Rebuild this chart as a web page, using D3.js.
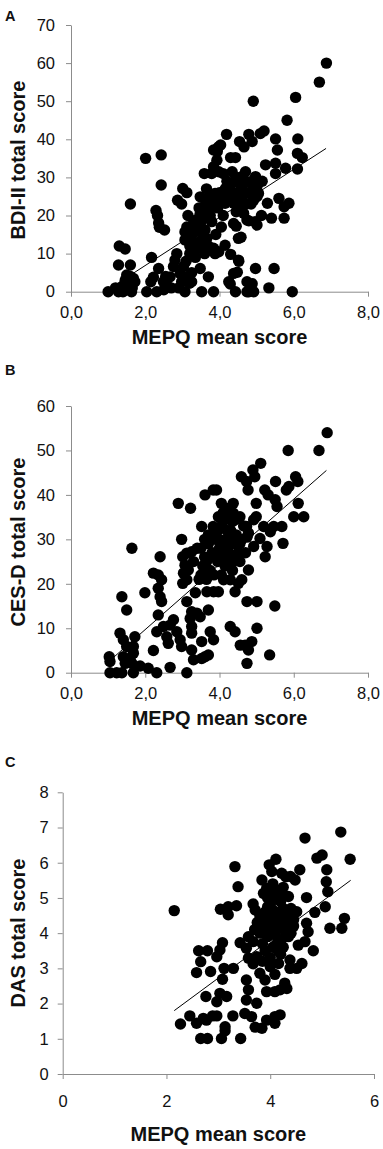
<!DOCTYPE html>
<html>
<head>
<meta charset="utf-8">
<script src="https://cdn.jsdelivr.net/npm/d3@7"></script>
<style>
  body { margin: 0; background: #fff; }
  svg { display: block; font-family: "Liberation Sans", Arial, sans-serif; }
</style>
</head>
<body>
<div id="chart"></div>
<script>
// Panel A: MEPQ mean score vs BDI-II total score
const pointsA = [
  [6.88,60],[6.69,55],[6.05,51],[4.91,50],[5.82,45],
  [4.19,41.3],[4.79,41.3],[5.2,42.2],[5.1,41.5],[5.51,40.1],[6.11,40.1],[4.54,39.4],[4.88,39.4],[4.66,38],[4.03,38.5],[3.94,36.8],[5.56,37.2],[6.1,36.3],[6.23,35.2],[3.84,37.2],[3.97,38],
  [4.3,35.2],[4.43,35.2],[3.93,34.5],[5.24,33.3],[5.51,33.7],[5.78,32.4],[6.1,32.2],[5.51,31],[3.98,31.5],[4.34,31.5],[4.7,31.5],[3.59,31],[3.79,31],[3.84,32.8],[4.97,30.2],[5.15,29],[4.6,30.2],[4.74,28.9],[4.92,29.3],
  [4.16,27.1],[4.61,27.1],[4.88,26.7],[5.01,27.6],[4.56,28],[4.24,27.1],[5.01,25],[5.05,25.8],[4.42,25.8],[4.78,25.8],[3.88,25.8],[4.92,24],[5.29,23.2],[5.6,24.5],[5.87,23.2],[5.74,22.3],[5.74,19.3],[5.13,20],[5.4,19.3],[4.79,18.6],[5.01,17.5],[4.45,17.2],[4.58,14.3],[4.15,23.2],[4.38,23.2],[4.56,22.3],[4.06,24],[3.84,22.3],[3.7,20.6],[3.79,18.4],[4.65,20.6],[4.74,18.8],[4.96,18.4],[4.38,17.9],[4.51,14],
  [3.48,24.9],[3.48,20.6],[3.57,22.3],[3.52,15.3],[3.61,16.2],[3.66,14],[2.87,24],[3.01,27.1],[3.12,26],[2.98,23],[3.07,15.7],[3.12,17],[3.07,13.6],[3.25,14.9],[3.25,13.6],[3.3,10],[3.39,11.4],[3.61,11.4],[3.84,11.4],[3.88,10],[4.15,12.2],[3.98,10.5],[4.3,9.8],[4.52,8],[4.51,8.3],[4.97,6.1],[5.47,6.1],[4.48,5.1],[4.38,4.8],[4.25,2.6],[4.74,2.6],[4.88,2.1],[4.29,2],[5.33,1],[5.96,0],[4.43,0],[4.79,0],[4.92,0],[4.74,0],
  [1.0,0],[1.28,0],[1.3,12],[1.46,11.2],[1.28,7],[1.6,7],[1.6,23],[1.5,4.4],[1.46,3],[1.4,0],[1.63,0],[1.72,2.6],[1.68,3.5],[1.55,1.7],[2.01,35],[2.43,35.9],[2.43,28],[2.29,21.3],[2.33,20],[2.36,18],[2.38,16.9],[2.52,16.2],[2.17,9],[2.36,6.1],[2.04,0],[2.31,0],[2.15,2.6],[2.22,3.8],[2.49,2.6],[2.67,3.9],[2.76,6.6],[2.8,8.3],[2.85,10],[2.62,1.3],[2.98,2.6],[3.07,0],[2.94,4.8],[3.03,6.6],[3.19,2.2],[3.25,2.6],[3.48,6.1],[3.7,3.9],[3.52,0],[3.84,0],
  [3.15,20],[3.3,18],[3.4,17],[3.2,12],[3.35,9],[3.1,8],[3.55,19],[3.75,25],[3.95,22],[4.1,20],[4.05,17],[3.9,15],[3.7,12],[3.6,10],[3.25,5],[3.15,4],[2.9,1],[2.7,1],[1.4,1.5],[1.2,1],[1.65,1],[3.45,22],[3.65,27],[4.0,26],[4.2,29],[4.45,21],[4.7,23],[4.55,25],[4.1,31],[4.5,29],
  [3.4,19],[3.5,17],[3.65,23],[3.75,20],[3.85,24],[4.0,23],[4.2,25],[4.3,24],[4.6,24],[4.85,23],[4.3,28],[4.45,30],[4.65,26],[3.3,16],[3.45,13],[3.55,12],[3.2,10],[1.5,2.5],[1.6,4],[2.5,0.5],[2.55,4]
];
const trendA = [[1.1, 1.2], [6.87, 37.6]];

// Panel B: MEPQ mean score vs CES-D total score
const pointsB = [
  [6.9,54],[6.68,50],[5.85,50],[5.11,47.1],[4.9,45.6],[4.95,44.1],[4.59,44.1],[6.05,44.1],[6.11,43],[5.51,43],[5.8,41.1],[5.87,41.9],[5.22,41.1],[5.31,40],[4.77,41.1],[4.73,43],[3.83,41.1],[3.92,41.1],[3.61,40],[2.89,38.1],[3.22,37],[4.05,38.1],[4.37,38.1],[4.99,38.1],[4.99,35.1],[5.55,37.4],[5.5,38.9],[6.12,38.1],[6.0,35.1],[6.27,35.1],[5.68,32.9],[5.46,32.9],[5.37,31.7],[5.19,32.9],[4.92,34.4],[4.78,31.4],[5.09,30.2],[5.28,28.4],[5.23,26.1],[5.71,29.1],[4.74,30.5],[4.92,28.4],
  [2.98,30],[3.52,32.9],[3.83,32.9],[3.97,35.1],[4.15,34.4],[4.37,35.9],[4.42,34.4],[4.55,35.1],[4.73,32.9],[1.64,28],[3.01,26.1],[3.12,26.9],[3.25,27.2],[3.07,24.2],[3.16,23.1],[3.03,22.4],[3.12,20.9],[3.01,20.1],[2.4,26.1],[2.22,22.4],[2.35,22],[2.44,20.9],[2.35,19],[2.4,17.1],[2.44,16],[2.35,13],[1.99,18],
  [2.49,10.4],[2.31,9.2],[2.58,8.1],[2.62,6.6],[2.76,11.9],[2.67,10.7],[2.85,9.2],[2.94,7.4],[2.98,5.9],[3.12,16],[3.25,13.7],[3.21,12.2],[3.25,10.4],[3.25,8.9],[3.25,5.1],[3.39,13.4],[3.48,12.6],[3.52,7],[3.52,3.2],[3.61,3.6],[3.7,4],[3.7,14.1],[3.66,18.2],[3.84,18.2],[3.97,18.2],[3.75,9.2],[3.84,7.4],[4.29,10.4],[4.42,9.2],[4.56,6.2],[4.69,6.2],[4.78,5.1],[4.87,7],[5.01,10],[5.01,16],[4.74,16],[4.74,2.1],[5.35,4],[5.49,15],[4.78,23.1],[4.6,20.9],[4.51,20.1],[4.42,18.2],[4.29,20.9],[4.11,20.9],
  [1.23,0],[1.05,0],[1.03,3.6],[1.05,2.5],[1.37,17.1],[1.5,14.1],[1.32,8.9],[1.41,7.4],[1.5,5.9],[1.72,8.1],[1.68,5.9],[1.68,4.4],[1.64,2.1],[1.46,2.1],[1.37,0],[1.68,0],[1.41,3.6],[1.59,3.2],[1.86,1.5],[2.08,1],[2.22,5],[2.31,0],[2.67,1.2],[3.12,0],[3.3,2.9],
  [3.5,28],[3.6,26],[3.7,29],[3.8,27],[3.9,30],[4.0,28],[4.1,26],[4.2,30],[4.3,32],[4.4,29],[4.5,27],[4.6,30],[3.55,24],[3.75,23],[3.95,25],[4.15,24],[4.35,23],[4.55,25],[4.7,27],[3.65,21],[3.85,22],[4.05,22],[4.25,27],[4.45,31],[4.65,33],[4.1,36],[4.25,37],[3.95,32],[3.7,31],[3.4,28],[3.3,25],[3.45,21],[3.35,18],[4.0,30],[4.35,25],
  [3.6,30],[3.8,31],[3.9,27],[4.05,33],[4.2,32],[4.3,29],[4.45,26],[4.55,29],[3.65,25],[3.85,26],[4.1,28],[4.2,35],[4.35,34],[3.5,22]
];
const trendB = [[1.14, 3.4], [6.88, 45.5]];

// Panel C: MEPQ mean score vs DAS total score
const pointsC = [
  [2.15,4.64],[2.27,1.42],[2.45,1.65],[2.58,1.44],[2.62,3.5],[2.79,3.5],[2.66,3.19],[2.58,2.88],[2.85,2.91],[2.76,2.2],[2.77,1.53],[2.89,1.65],[2.71,1.58],[2.66,1.01],[2.79,1.01],[3.06,1.01],[2.97,1.65],[3.13,1.34],[3.13,1.23],[3.28,1.65],[3.43,1.01],
  [3.04,4.68],[3.19,4.75],[3.35,4.78],[3.19,4.52],[3.32,5.89],[3.38,5.32],[3.08,3.73],[3.03,3.52],[2.97,3.33],[3.42,3.73],[3.11,3.0],[3.08,2.69],[3.29,3.0],[3.03,2.29],[3.16,2.2],[2.97,2.05],
  [3.54,3.57],[3.58,3.29],[3.54,2.67],[3.58,2.39],[3.54,2.1],[3.51,1.72],[3.64,1.63],[3.71,1.33],[3.84,1.3],[3.93,1.53],[4.09,1.63],[4.19,1.68],[4.09,1.44],[3.74,2.01],[3.8,2.86],[3.9,2.67],[3.93,2.34],[4.09,2.34],[4.09,2.83],[4.19,2.39],[4.28,2.58],[4.32,2.43],[4.0,3.05],[4.16,3.14],[3.67,3.13],[3.74,3.33],[3.67,3.76],[3.58,3.9],[3.67,4.83],[3.71,4.66],
  [3.84,5.51],[3.93,5.27],[3.87,5.13],[3.98,5.94],[4.11,6.1],[4.03,5.75],[4.22,5.7],[4.39,5.61],[4.48,5.51],[4.57,5.8],[4.7,5.01],[4.67,6.7],[4.9,6.13],[5.0,6.22],[5.09,5.8],[5.08,5.46],[5.11,5.18],[5.06,4.75],[4.86,4.59],[5.15,4.14],[5.36,6.87],[5.54,6.1],[5.43,4.42],[5.38,4.14],[4.83,3.5],[4.61,3.14],[4.51,3.0],[4.73,4.04],[4.7,4.28],[4.67,3.76],[4.54,3.66],[4.38,3.24],[4.38,3.0],[4.45,4.38],[4.51,4.61],[4.35,5.04],
  [3.8,4.0],[3.9,4.2],[4.0,4.4],[4.1,4.1],[4.2,4.3],[4.3,4.0],[3.85,3.7],[3.95,3.9],[4.05,3.6],[4.15,3.8],[4.25,3.6],[4.35,3.9],[3.9,4.6],[4.0,4.8],[4.1,4.6],[4.2,4.9],[4.3,4.5],[4.15,5.2],[4.25,5.3],[4.05,5.4],[3.95,5.0],[3.8,4.5],[3.75,4.3],[3.7,4.1],[4.4,4.7],[4.45,4.2],[4.0,3.3],[4.2,3.4],[3.85,3.2],[4.1,5.0],[4.3,5.6],[4.0,5.2],[4.25,4.7],[3.9,3.5],[4.35,4.3],
  [4.05,4.25],[4.15,4.45],[4.25,4.15],[4.1,3.95],[3.95,4.1],[4.2,3.75],[4.3,4.25],[4.05,4.65],[4.15,4.95],[3.85,4.35],[4.35,4.6],[4.0,4.0],[4.2,4.6],[4.1,3.65],[4.4,4.0],[3.95,4.75],[4.25,5.05],[4.15,3.5]
];
const trendC = [[2.15, 1.8], [5.55, 5.5]];

const ticksXab = [0, 2, 4, 6, 8];
const ticksYA = [0, 10, 20, 30, 40, 50, 60, 70];
const ticksYB = [0, 10, 20, 30, 40, 50, 60];
const ticksXC = [0, 2, 4, 6];
const ticksYC = [0, 1, 2, 3, 4, 5, 6, 7, 8];

const W = 383, H = 1149;
const axisColor = "#8c8c8c";
const comma1 = v => d3.format(".1f")(v).replace(".", ",");

const svg = d3.select("#chart").append("svg")
  .attr("width", W)
  .attr("height", H);

svg.append("rect").attr("width", W).attr("height", H).attr("fill", "#fff");

function styleAxis(a) {
  a.select(".domain").attr("stroke", axisColor);
  a.selectAll(".tick line").attr("stroke", axisColor);
  a.selectAll(".tick text")
    .style("font-family", "'Liberation Sans', Arial, sans-serif")
    .style("font-size", "16.5px")
    .attr("fill", "#111");
}

function drawPanel(p) {
  const x = d3.scaleLinear().domain(p.xDomain).range(p.xRange);
  const y = d3.scaleLinear().domain(p.yDomain).range(p.yRange);
  const g = svg.append("g");

  // y axis
  g.append("g")
    .attr("transform", `translate(${p.xRange[0]},0)`)
    .call(d3.axisLeft(y).tickValues(p.yTicks).tickSize(5).tickSizeOuter(0).tickPadding(p.yPad).tickFormat(d3.format("d")))
    .call(styleAxis);

  // x axis
  g.append("g")
    .attr("transform", `translate(0,${p.yRange[0]})`)
    .call(d3.axisBottom(x).tickValues(p.xTicks).tickSize(5).tickSizeOuter(0).tickPadding(p.xPad).tickFormat(p.xFormat))
    .call(styleAxis);

  // dots
  g.selectAll(".dot")
    .data(p.points)
    .enter()
    .append("circle")
    .attr("cx", d => x(d[0]))
    .attr("cy", d => y(d[1]))
    .attr("r", 5.7)
    .attr("fill", "#000");

  // trend line
  g.append("line")
    .attr("x1", x(p.trend[0][0]))
    .attr("y1", y(p.trend[0][1]))
    .attr("x2", x(p.trend[1][0]))
    .attr("y2", y(p.trend[1][1]))
    .attr("stroke", "#000")
    .attr("stroke-width", 1);

  // axis titles
  g.append("text")
    .attr("x", (p.xRange[0] + p.xRange[1]) / 2)
    .attr("y", p.xTitleY)
    .attr("text-anchor", "middle")
    .style("font-size", "20px")
    .style("font-weight", "bold")
    .attr("fill", "#111")
    .text("MEPQ mean score");

  g.append("text")
    .attr("transform", `translate(25,${p.yTitleY}) rotate(-90)`)
    .attr("text-anchor", "middle")
    .style("font-size", "20px")
    .style("font-weight", "bold")
    .attr("fill", "#111")
    .text(p.yTitle);

  // panel letter
  g.append("text")
    .attr("x", 5)
    .attr("y", p.letterY)
    .style("font-size", "14.5px")
    .style("font-weight", "bold")
    .attr("fill", "#111")
    .text(p.letter);
}

drawPanel({
  letter: "A", letterY: 21,
  points: pointsA, trend: trendA,
  xDomain: [0, 8], xRange: [71, 368], xTicks: ticksXab, xFormat: comma1, xPad: 10,
  yDomain: [0, 70], yRange: [291.7, 25], yTicks: ticksYA, yPad: 11,
  yTitle: "BDI-II total score", yTitleY: 160, xTitleY: 344
});

drawPanel({
  letter: "B", letterY: 375,
  points: pointsB, trend: trendB,
  xDomain: [0, 8], xRange: [71, 368], xTicks: ticksXab, xFormat: comma1, xPad: 10,
  yDomain: [0, 60], yRange: [672.7, 406], yTicks: ticksYB, yPad: 11,
  yTitle: "CES-D total score", yTitleY: 542, xTitleY: 725
});

drawPanel({
  letter: "C", letterY: 767,
  points: pointsC, trend: trendC,
  xDomain: [0, 6], xRange: [62.7, 374], xTicks: ticksXC, xFormat: d3.format("d"), xPad: 16,
  yDomain: [0, 8], yRange: [1074, 792.3], yTicks: ticksYC, yPad: 9,
  yTitle: "DAS total score", yTitleY: 933, xTitleY: 1141
});
</script>
</body>
</html>
